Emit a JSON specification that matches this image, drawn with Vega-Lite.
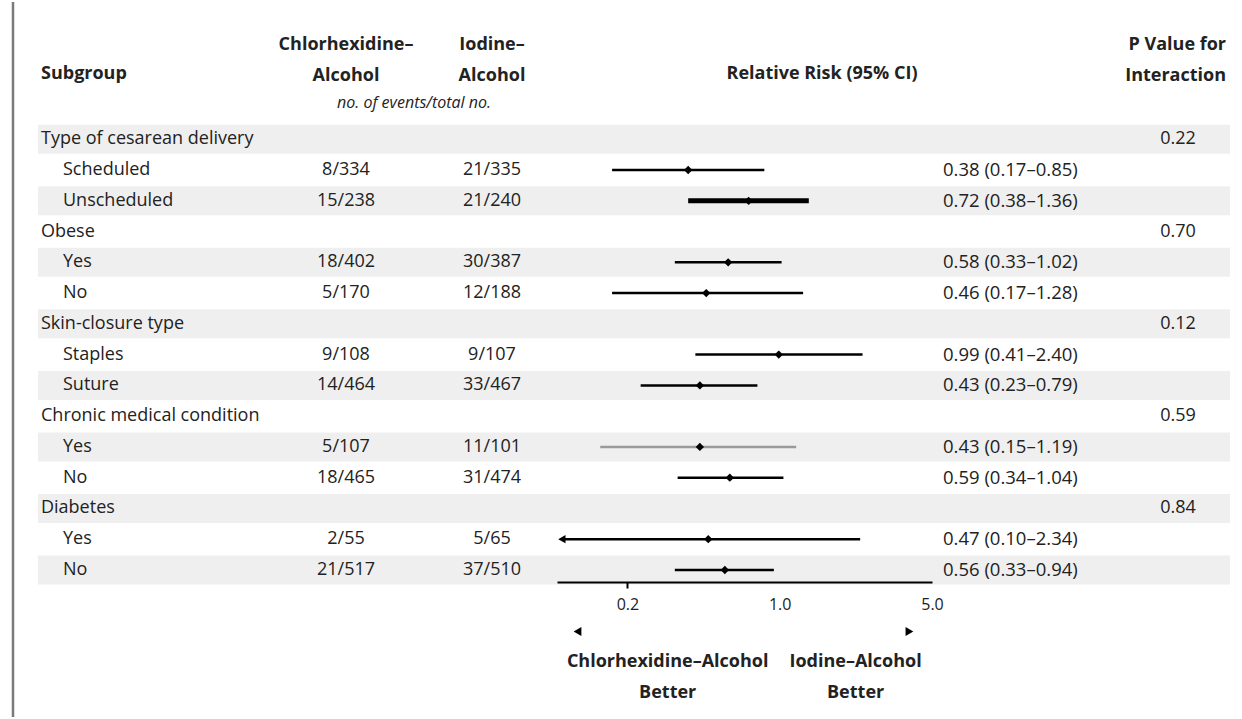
{
  "$schema": "https://vega.github.io/schema/vega-lite/v6.json",
  "width": 1242,
  "height": 719,
  "autosize": {"type": "fit", "contains": "padding"},
  "padding": 0,
  "background": "white",
  "config": {
    "view": {"stroke": null},
    "text": {"font": "Open Sans", "fontSize": 18, "color": "#222222"}
  },
  "datasets": {
    "rows": [
      {"row": 1, "type": "group", "label": "Type of cesarean delivery", "p": "0.22"},
      {"row": 2, "type": "sub", "label": "Scheduled", "chlor": "8/334", "iodine": "21/335", "rr": 0.38, "lo": 0.17, "hi": 0.85, "ci": "0.38 (0.17–0.85)"},
      {"row": 3, "type": "sub", "label": "Unscheduled", "chlor": "15/238", "iodine": "21/240", "rr": 0.72, "lo": 0.38, "hi": 1.36, "ci": "0.72 (0.38–1.36)"},
      {"row": 4, "type": "group", "label": "Obese", "p": "0.70"},
      {"row": 5, "type": "sub", "label": "Yes", "chlor": "18/402", "iodine": "30/387", "rr": 0.58, "lo": 0.33, "hi": 1.02, "ci": "0.58 (0.33–1.02)"},
      {"row": 6, "type": "sub", "label": "No", "chlor": "5/170", "iodine": "12/188", "rr": 0.46, "lo": 0.17, "hi": 1.28, "ci": "0.46 (0.17–1.28)"},
      {"row": 7, "type": "group", "label": "Skin-closure type", "p": "0.12"},
      {"row": 8, "type": "sub", "label": "Staples", "chlor": "9/108", "iodine": "9/107", "rr": 0.99, "lo": 0.41, "hi": 2.40, "ci": "0.99 (0.41–2.40)"},
      {"row": 9, "type": "sub", "label": "Suture", "chlor": "14/464", "iodine": "33/467", "rr": 0.43, "lo": 0.23, "hi": 0.79, "ci": "0.43 (0.23–0.79)"},
      {"row": 10, "type": "group", "label": "Chronic medical condition", "p": "0.59"},
      {"row": 11, "type": "sub", "label": "Yes", "chlor": "5/107", "iodine": "11/101", "rr": 0.43, "lo": 0.15, "hi": 1.19, "ci": "0.43 (0.15–1.19)"},
      {"row": 12, "type": "sub", "label": "No", "chlor": "18/465", "iodine": "31/474", "rr": 0.59, "lo": 0.34, "hi": 1.04, "ci": "0.59 (0.34–1.04)"},
      {"row": 13, "type": "group", "label": "Diabetes", "p": "0.84"},
      {"row": 14, "type": "sub", "label": "Yes", "chlor": "2/55", "iodine": "5/65", "rr": 0.47, "lo": 0.10, "hi": 2.34, "ci": "0.47 (0.10–2.34)"},
      {"row": 15, "type": "sub", "label": "No", "chlor": "21/517", "iodine": "37/510", "rr": 0.56, "lo": 0.33, "hi": 0.94, "ci": "0.56 (0.33–0.94)"}
    ],
    "headers": [
      {"column": "subgroup", "row": -1, "text": "Subgroup"},
      {"column": "chlor", "row": -2, "text": "Chlorhexidine–"},
      {"column": "chlor", "row": -1, "text": "Alcohol"},
      {"column": "iodine", "row": -2, "text": "Iodine–"},
      {"column": "iodine", "row": -1, "text": "Alcohol"},
      {"column": "counts", "row": 0, "text": "no. of events/total no."},
      {"column": "rr", "row": -1, "text": "Relative Risk (95% CI)"},
      {"column": "p", "row": -2, "text": "P Value for"},
      {"column": "p", "row": -1, "text": "Interaction"}
    ],
    "notes": [
      {"row": 18, "x": 0.306, "text": "Chlorhexidine–Alcohol"},
      {"row": 19, "x": 0.306, "text": "Better"},
      {"row": 18, "x": 2.23, "text": "Iodine–Alcohol"},
      {"row": 19, "x": 2.23, "text": "Better"}
    ],
    "arrows": [
      {"row": 17, "x": 0.118, "dir": "left"},
      {"row": 17, "x": 3.94, "dir": "right"}
    ]
  },
  "resolve": {"scale": {"x": "independent"}},
  "layer": [
    {
      "layer": [
        {
          "data": {"values": [{"edge": "left"}]},
          "mark": {"type": "rule", "color": "#7a7a7a", "strokeWidth": 2.5},
          "encoding": {
            "x": {"datum": 0, "type": "quantitative", "axis": null,
                  "scale": {"nice": false, "zero": false,
                            "domain": [0, 1, 2, 3, 4, 5, 6, 7, 8, 9, 10, 11],
                            "range": [13, 38, 41, 63, 346, 414, 492, 822, 943, 1178, 1226, 1230]}}
          }
        },
        {
          "data": {"name": "rows"},
          "transform": [{"filter": "datum.row % 2 == 1"}],
          "mark": {"type": "rule", "color": "#efefef", "strokeWidth": 29, "strokeCap": "butt"},
          "encoding": {
            "x": {"datum": 1, "type": "quantitative"},
            "x2": {"datum": 11},
            "y": {"field": "row", "type": "quantitative", "axis": null,
                  "scale": {"domain": [-2, 19], "range": [45, 691], "nice": false, "zero": false}}
          }
        },
        {
          "data": {"name": "rows"},
          "transform": [{"filter": "datum.type == 'group'"}],
          "mark": {"type": "text", "align": "left"},
          "encoding": {
            "x": {"datum": 2, "type": "quantitative"},
            "y": {"field": "row", "type": "quantitative"},
            "text": {"field": "label"}
          }
        },
        {
          "data": {"name": "rows"},
          "transform": [{"filter": "datum.type == 'sub'"}],
          "mark": {"type": "text", "align": "left"},
          "encoding": {
            "x": {"datum": 3, "type": "quantitative"},
            "y": {"field": "row", "type": "quantitative"},
            "text": {"field": "label"}
          }
        },
        {
          "data": {"name": "rows"},
          "transform": [{"filter": "datum.type == 'sub'"}],
          "mark": {"type": "text", "align": "center"},
          "encoding": {
            "x": {"datum": 4, "type": "quantitative"},
            "y": {"field": "row", "type": "quantitative"},
            "text": {"field": "chlor"}
          }
        },
        {
          "data": {"name": "rows"},
          "transform": [{"filter": "datum.type == 'sub'"}],
          "mark": {"type": "text", "align": "center"},
          "encoding": {
            "x": {"datum": 6, "type": "quantitative"},
            "y": {"field": "row", "type": "quantitative"},
            "text": {"field": "iodine"}
          }
        },
        {
          "data": {"name": "rows"},
          "transform": [{"filter": "datum.type == 'sub'"}],
          "mark": {"type": "text", "align": "left", "fontSize": 18.5},
          "encoding": {
            "x": {"datum": 8, "type": "quantitative"},
            "y": {"field": "row", "type": "quantitative"},
            "text": {"field": "ci"}
          }
        },
        {
          "data": {"name": "rows"},
          "transform": [{"filter": "datum.type == 'group'"}],
          "mark": {"type": "text", "align": "center"},
          "encoding": {
            "x": {"datum": 9, "type": "quantitative"},
            "y": {"field": "row", "type": "quantitative"},
            "text": {"field": "p"}
          }
        },
        {
          "data": {"name": "headers"},
          "transform": [{"filter": "datum.column == 'subgroup'"}],
          "mark": {"type": "text", "align": "left", "fontWeight": "bold", "dy": -4},
          "encoding": {
            "x": {"datum": 2, "type": "quantitative"},
            "y": {"field": "row", "type": "quantitative"},
            "text": {"field": "text"}
          }
        },
        {
          "data": {"name": "headers"},
          "transform": [{"filter": "datum.column == 'chlor'"}],
          "mark": {"type": "text", "align": "center", "fontWeight": "bold", "dy": -2},
          "encoding": {
            "x": {"datum": 4, "type": "quantitative"},
            "y": {"field": "row", "type": "quantitative"},
            "text": {"field": "text"}
          }
        },
        {
          "data": {"name": "headers"},
          "transform": [{"filter": "datum.column == 'iodine'"}],
          "mark": {"type": "text", "align": "center", "fontWeight": "bold", "dy": -2},
          "encoding": {
            "x": {"datum": 6, "type": "quantitative"},
            "y": {"field": "row", "type": "quantitative"},
            "text": {"field": "text"}
          }
        },
        {
          "data": {"name": "headers"},
          "transform": [{"filter": "datum.column == 'counts'"}],
          "mark": {"type": "text", "align": "center", "fontStyle": "italic", "fontSize": 16, "dy": -6},
          "encoding": {
            "x": {"datum": 5, "type": "quantitative"},
            "y": {"field": "row", "type": "quantitative"},
            "text": {"field": "text"}
          }
        },
        {
          "data": {"name": "headers"},
          "transform": [{"filter": "datum.column == 'rr'"}],
          "mark": {"type": "text", "align": "center", "fontWeight": "bold", "dy": -4},
          "encoding": {
            "x": {"datum": 7, "type": "quantitative"},
            "y": {"field": "row", "type": "quantitative"},
            "text": {"field": "text"}
          }
        },
        {
          "data": {"name": "headers"},
          "transform": [{"filter": "datum.column == 'p'"}],
          "mark": {"type": "text", "align": "right", "fontWeight": "bold", "dy": -2},
          "encoding": {
            "x": {"datum": 10, "type": "quantitative"},
            "y": {"field": "row", "type": "quantitative"},
            "text": {"field": "text"}
          }
        }
      ]
    },
    {
      "layer": [
        {
          "data": {"name": "rows"},
          "transform": [{"filter": "datum.type == 'sub' && datum.row != 3 && datum.row != 11"}],
          "mark": {"type": "rule", "color": "#000000", "strokeWidth": 2.5},
          "encoding": {
            "x": {"field": "lo", "type": "quantitative",
                  "scale": {"type": "log", "domain": [0.095, 5], "range": [557, 932], "nice": false},
                  "axis": {"orient": "bottom", "offset": -135, "zindex": 2, "values": [0.2, 1, 5], "format": ".1f",
                           "title": null, "grid": false, "labelFlush": false,
                           "domainColor": "#000000", "domainWidth": 2.2,
                           "tickColor": "#000000", "tickWidth": 2, "tickSize": 6,
                           "tickOpacity": {"condition": {"test": "datum.value == 0.2", "value": 1}, "value": 0},
                           "labelFont": "Open Sans", "labelFontSize": 16, "labelColor": "#222222", "labelPadding": 8}},
            "x2": {"field": "hi"},
            "y": {"field": "row", "type": "quantitative"}
          }
        },
        {
          "data": {"name": "rows"},
          "transform": [{"filter": "datum.row == 3"}],
          "mark": {"type": "rule", "color": "#000000", "strokeWidth": 5},
          "encoding": {
            "x": {"field": "lo", "type": "quantitative"},
            "x2": {"field": "hi"},
            "y": {"field": "row", "type": "quantitative"}
          }
        },
        {
          "data": {"name": "rows"},
          "transform": [{"filter": "datum.row == 11"}],
          "mark": {"type": "rule", "color": "#9a9a9a", "strokeWidth": 2.5},
          "encoding": {
            "x": {"field": "lo", "type": "quantitative"},
            "x2": {"field": "hi"},
            "y": {"field": "row", "type": "quantitative"}
          }
        },
        {
          "data": {"name": "rows"},
          "transform": [{"filter": "datum.type == 'sub'"}],
          "mark": {"type": "point", "shape": "diamond", "filled": true, "color": "#000000", "size": 70, "opacity": 1},
          "encoding": {
            "x": {"field": "rr", "type": "quantitative"},
            "y": {"field": "row", "type": "quantitative"}
          }
        },
        {
          "data": {"name": "rows"},
          "transform": [{"filter": "datum.type == 'sub' && datum.lo <= 0.1"}],
          "mark": {"type": "point", "shape": "triangle-left", "filled": true, "color": "#000000", "size": 70, "opacity": 1},
          "encoding": {
            "x": {"field": "lo", "type": "quantitative"},
            "y": {"field": "row", "type": "quantitative"}
          }
        },
        {
          "data": {"name": "arrows"},
          "mark": {"type": "point", "filled": true, "color": "#000000", "size": 80, "opacity": 1},
          "encoding": {
            "x": {"field": "x", "type": "quantitative"},
            "y": {"field": "row", "type": "quantitative"},
            "shape": {"field": "dir", "type": "nominal", "legend": null,
                      "scale": {"domain": ["left", "right"], "range": ["triangle-left", "triangle-right"]}}
          }
        },
        {
          "data": {"name": "notes"},
          "mark": {"type": "text", "align": "center", "fontWeight": "bold"},
          "encoding": {
            "x": {"field": "x", "type": "quantitative"},
            "y": {"field": "row", "type": "quantitative"},
            "text": {"field": "text"}
          }
        }
      ]
    }
  ]
}
